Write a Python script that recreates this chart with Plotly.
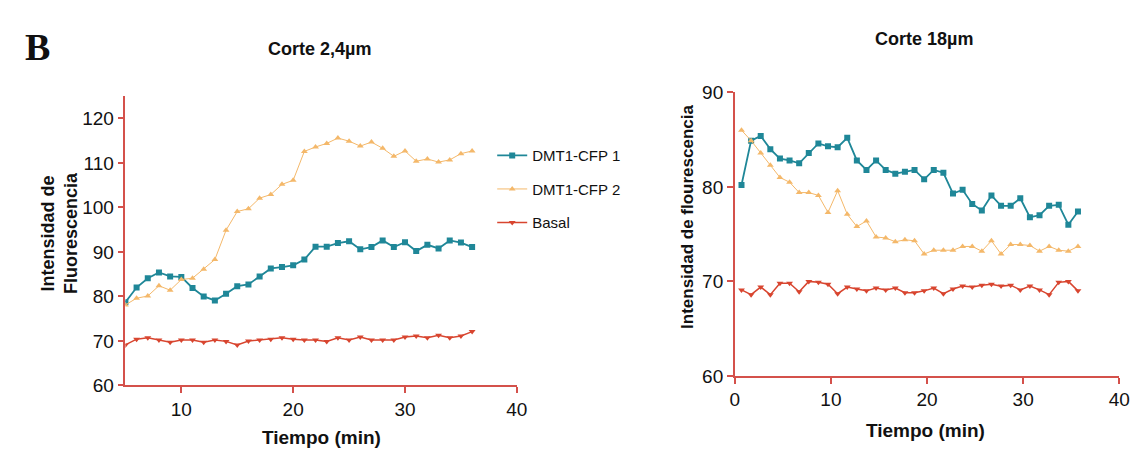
import plotly.graph_objects as go

W, H = 1144, 460

# ---- Left panel: Corte 2,4 µm ----
t_left = [5, 6, 7, 8, 9, 10, 11, 12, 13, 14, 15, 16, 17, 18, 19, 20, 21, 22, 23, 24,
          25, 26, 27, 28, 29, 30, 31, 32, 33, 34, 35, 36]
cfp1_left = [78.7, 82.0, 84.1, 85.4, 84.5, 84.4, 81.9, 80.0, 79.1, 80.6, 82.3, 82.7, 84.5, 86.3,
             86.6, 87.0, 88.3, 91.2, 91.2, 92.0, 92.4, 90.6, 91.1, 92.6, 91.1, 92.2, 90.2, 91.6,
             90.8, 92.6, 92.1, 91.1]
cfp2_left = [78.1, 79.6, 80.1, 82.4, 81.4, 83.8, 84.1, 86.1, 88.3, 94.9, 99.1, 99.7, 102.1, 102.9,
             105.2, 106.1, 112.6, 113.6, 114.4, 115.6, 114.9, 113.8, 114.7, 113.3, 111.5, 112.7,
             110.4, 110.9, 110.2, 110.7, 112.1, 112.7]
basal_left = [69.1, 70.4, 70.7, 70.2, 69.7, 70.2, 70.2, 69.7, 70.2, 69.9, 69.1, 70.0, 70.2, 70.4,
              70.7, 70.4, 70.2, 70.2, 69.9, 70.7, 70.2, 70.9, 70.2, 70.2, 70.2, 70.9, 71.1, 70.7,
              71.3, 70.7, 71.1, 72.1]

# ---- Right panel: Corte 18 µm ----
t_right = [0.7, 1.7, 2.7, 3.7, 4.7, 5.7, 6.7, 7.7, 8.7, 9.7, 10.7, 11.7, 12.7, 13.7, 14.7, 15.7,
           16.7, 17.7, 18.7, 19.7, 20.7, 21.7, 22.7, 23.7, 24.7, 25.7, 26.7, 27.7, 28.7, 29.7,
           30.7, 31.7, 32.7, 33.7, 34.7, 35.7]
cfp1_right = [80.2, 84.9, 85.4, 84.0, 83.0, 82.8, 82.5, 83.6, 84.6, 84.3, 84.2, 85.2, 82.8, 81.8,
              82.8, 81.8, 81.4, 81.6, 81.8, 80.8, 81.8, 81.5, 79.3, 79.7, 78.2, 77.5, 79.1, 78.0,
              78.0, 78.8, 76.8, 77.0, 78.0, 78.1, 76.0, 77.4]
cfp2_right = [86.0, 84.9, 83.6, 82.3, 81.0, 80.5, 79.4, 79.4, 79.1, 77.3, 79.6, 77.1, 75.8, 76.4,
              74.7, 74.6, 74.2, 74.4, 74.3, 72.9, 73.3, 73.3, 73.3, 73.7, 73.7, 73.2, 74.3, 72.9,
              73.9, 73.9, 73.8, 73.2, 73.7, 73.3, 73.2, 73.7]
basal_right = [69.1, 68.6, 69.4, 68.6, 69.8, 69.8, 68.9, 70.0, 69.9, 69.7, 68.7, 69.4, 69.2, 69.0,
               69.3, 69.1, 69.3, 68.8, 68.8, 69.0, 69.3, 68.7, 69.2, 69.5, 69.4, 69.6, 69.7, 69.5,
               69.6, 69.1, 69.5, 69.1, 68.6, 69.9, 70.0, 69.0]

series_names = ["DMT1-CFP 1", "DMT1-CFP 2", "Basal"]
colors = ["#1f8798", "#f4b86a", "#d8452f"]
symbols = ["square", "triangle-up", "triangle-down"]
widths = [1.8, 1.0, 1.5]
sizes = [6, 6, 6]

AXIS_COLOR = "#d4514b"
FONT = "Liberation Sans, Arial, sans-serif"

fig = go.Figure()

left_data = [cfp1_left, cfp2_left, basal_left]
right_data = [cfp1_right, cfp2_right, basal_right]

for i, name in enumerate(series_names):
    fig.add_trace(go.Scatter(
        x=t_left, y=left_data[i], name=name, mode="lines+markers",
        line=dict(color=colors[i], width=widths[i]),
        marker=dict(symbol=symbols[i], size=sizes[i], color=colors[i]),
        xaxis="x", yaxis="y", legendgroup=name, showlegend=True))
for i, name in enumerate(series_names):
    fig.add_trace(go.Scatter(
        x=t_right, y=right_data[i], name=name, mode="lines+markers",
        line=dict(color=colors[i], width=widths[i]),
        marker=dict(symbol=symbols[i], size=sizes[i], color=colors[i]),
        xaxis="x2", yaxis="y2", legendgroup=name, showlegend=False))

axis_common = dict(showline=True, linecolor=AXIS_COLOR, linewidth=1.5, ticks="outside",
                   tickcolor=AXIS_COLOR, ticklen=6, tickwidth=1.5, showgrid=False,
                   zeroline=False, tickfont=dict(family=FONT, size=19, color="#111"),
                   fixedrange=True)

fig.update_layout(
    width=W, height=H,
    margin=dict(l=0, r=0, t=0, b=0),
    paper_bgcolor="white", plot_bgcolor="white",
    font=dict(family=FONT, color="#111"),
    xaxis=dict(domain=[114 / W, 511 / W], range=[5, 40], tickvals=[10, 20, 30, 40],
               anchor="y", **axis_common),
    yaxis=dict(domain=[1 - 385 / H, 1 - 82 / H], range=[60, 125],
               tickvals=[60, 70, 80, 90, 100, 110, 120], anchor="x", **axis_common),
    xaxis2=dict(domain=[732 / W, 1122 / W], range=[0, 40], tickvals=[0, 10, 20, 30, 40],
                anchor="y2", **axis_common),
    yaxis2=dict(domain=[1 - 375 / H, 1 - 78 / H], range=[60, 90],
                tickvals=[60, 70, 80, 90], anchor="x2", **axis_common),
    legend=dict(x=486 / W, y=1 - 127 / H, xanchor="left", yanchor="top",
                font=dict(family=FONT, size=15, color="#111"),
                bgcolor="rgba(0,0,0,0)", tracegroupgap=11, itemwidth=30),
    showlegend=True,
)

ann = [
    dict(text="<b>B</b>", x=25 / W, y=1 - 30 / H, font=dict(family="Liberation Serif, Times New Roman, serif", size=38, color="#111")),
    dict(text="<b>Corte 2,4µm</b>", x=311 / W, y=1 - 33 / H, font=dict(family=FONT, size=18, color="#111")),
    dict(text="<b>Corte 18µm</b>", x=924 / W, y=1 - 22 / H, font=dict(family=FONT, size=18, color="#111")),
    dict(text="<b>Tiempo (min)</b>", x=313 / W, y=1 - 440 / H, font=dict(family=FONT, size=19, color="#111")),
    dict(text="<b>Tiempo (min)</b>", x=925 / W, y=1 - 432 / H, font=dict(family=FONT, size=19, color="#111")),
    dict(text="<b>Intensidad de<br>Fluorescencia</b>", x=47 / W, y=1 - 225 / H, textangle=-90,
         font=dict(family=FONT, size=18, color="#111")),
    dict(text="<b>Intensidad de flourescencia</b>", x=684 / W, y=1 - 208 / H, textangle=-90,
         font=dict(family=FONT, size=17, color="#111")),
]
for a in ann:
    fig.add_annotation(xref="paper", yref="paper", showarrow=False, xanchor="center",
                       yanchor="middle", **a)

fig.write_html("out.html")
